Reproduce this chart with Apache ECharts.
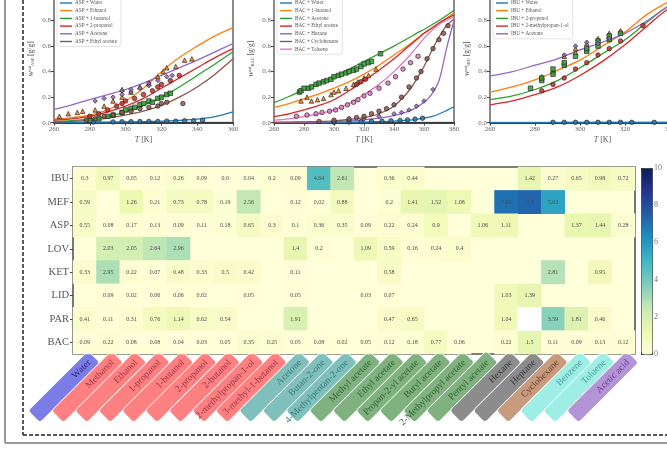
<!DOCTYPE html>
<html>
<head>
<meta charset="utf-8">
<script src="https://cdn.jsdelivr.net/npm/echarts@6/dist/echarts.min.js"></script>
<style>
  html, body { margin: 0; padding: 0; background: #fff; }
  #chart { width: 667px; height: 450px; }
</style>
</head>
<body>
<div id="chart"></div>
<script>
// ---------- solubility curves and measurements (w in g/g, T in K) ----------
const aspT = [260, 270, 280, 290, 300, 310, 320, 330, 340, 350, 360];
const aspNames = ['ASP + Water', 'ASP + Ethanol', 'ASP + 1-butanol', 'ASP + 2-propanol', 'ASP + Acetone', 'ASP + Ethyl acetate'];
const aspWater   = [0.001, 0.002, 0.003, 0.004, 0.006, 0.008, 0.012, 0.018, 0.028, 0.048, 0.085];
const aspEthanol = [0.027, 0.04, 0.06, 0.10, 0.17, 0.27, 0.40, 0.51, 0.60, 0.68, 0.745];
const aspButanol = [0.01, 0.017, 0.03, 0.05, 0.085, 0.135, 0.20, 0.28, 0.37, 0.46, 0.555];
const aspPropanol = [0.02, 0.03, 0.05, 0.085, 0.13, 0.19, 0.27, 0.35, 0.43, 0.51, 0.58];
const aspAcetone = [0.105, 0.14, 0.18, 0.22, 0.26, 0.31, 0.37, 0.43, 0.49, 0.555, 0.62];
const aspEthylAc = [0.005, 0.01, 0.02, 0.035, 0.06, 0.09, 0.135, 0.20, 0.28, 0.38, 0.50];
const aspWaterPts = [[282,0.005],[293,0.006],[298,0.008],[303,0.008],[308,0.009],[313,0.01],[318,0.01],[323,0.012],[328,0.012],[333,0.015],[338,0.016],[343,0.02]];
const aspEthanolPts = [[263,0.05],[268,0.07],[273,0.08],[276,0.09],[283,0.1],[288,0.13],[293,0.17],[298,0.2],[298,0.26],[303,0.24],[308,0.28],[313,0.31],[318,0.36],[321,0.4],[323,0.43],[328,0.44],[333,0.49],[337,0.5]];
const aspButanolPts = [[280,0.02],[285,0.03],[290,0.05],[293,0.06],[298,0.08],[300,0.1],[303,0.11],[305,0.12],[308,0.14],[310,0.15],[313,0.17],[315,0.16],[318,0.19],[320,0.2],[323,0.22],[325,0.23]];
const aspPropanolPts = [[280,0.05],[285,0.07],[290,0.1],[295,0.13],[298,0.15],[300,0.17],[305,0.19],[310,0.22],[315,0.25],[318,0.28],[320,0.3],[325,0.33],[330,0.37]];
const aspAcetonePts = [[283,0.17],[288,0.19],[293,0.2],[298,0.22],[298,0.25],[303,0.24],[303,0.26],[308,0.27],[313,0.29],[313,0.31],[318,0.33],[323,0.36],[326,0.37]];
const aspEthylAcPts = [[278,0.02],[283,0.03],[288,0.05],[293,0.06],[298,0.08],[303,0.09],[308,0.11],[313,0.12],[318,0.13],[320,0.15],[323,0.16],[332,0.15]];

const bacT = [260, 270, 280, 290, 300, 310, 320, 330, 340, 350, 355, 360, 365, 370, 375, 380];
const bacNames = ['BAC + Water', 'BAC + 1-butanol', 'BAC + Acetone', 'BAC + Ethyl acetate', 'BAC + Hexane', 'BAC + Cyclohexane', 'BAC + Toluene'];
const bacWater   = [0.000, 0.000, 0.001, 0.001, 0.002, 0.003, 0.005, 0.008, 0.012, 0.02, 0.026, 0.035, 0.048, 0.068, 0.095, 0.125];
const bacButanol = [0.12, 0.15, 0.186, 0.225, 0.27, 0.32, 0.38, 0.45, 0.53, 0.61, 0.655, 0.70, 0.74, 0.78, 0.82, 0.86];
const bacAcetone = [0.157, 0.205, 0.26, 0.31, 0.36, 0.42, 0.48, 0.54, 0.60, 0.665, 0.70, 0.73, 0.765, 0.80, 0.84, 0.88];
const bacEthylAc = [0.047, 0.07, 0.10, 0.135, 0.18, 0.25, 0.33, 0.41, 0.50, 0.60, 0.65, 0.70, 0.74, 0.78, 0.815, 0.845];
const bacHexane  = [0.000, 0.001, 0.002, 0.004, 0.008, 0.014, 0.022, 0.035, 0.055, 0.09, 0.12, 0.16, 0.22, 0.33, 0.58, 0.80];
const bacCyclohex = [0.003, 0.005, 0.007, 0.01, 0.015, 0.025, 0.04, 0.07, 0.13, 0.25, 0.34, 0.44, 0.56, 0.67, 0.76, 0.81];
const bacToluene = [0.02, 0.03, 0.05, 0.07, 0.10, 0.15, 0.22, 0.30, 0.40, 0.52, 0.59, 0.66, 0.72, 0.77, 0.80, 0.83];
const bacWaterPts = [[300,0.003],[310,0.005],[318,0.008],[325,0.01],[332,0.012],[338,0.015],[344,0.018],[349,0.022],[354,0.028],[359,0.035]];
const bacButanolPts = [[278,0.17],[282,0.2],[285,0.17],[289,0.18],[293,0.19],[298,0.22],[300,0.24],[303,0.25],[308,0.27],[313,0.3],[316,0.32],[320,0.35],[323,0.37],[328,0.42]];
const bacAcetonePts = [[277,0.24],[278,0.25],[280,0.27],[283,0.27],[285,0.28],[288,0.3],[290,0.31],[293,0.32],[295,0.33],[298,0.34],[300,0.36],[303,0.37],[305,0.38],[308,0.39],[310,0.4],[313,0.41],[315,0.42],[318,0.44],[320,0.46],[323,0.47],[325,0.48],[331,0.54]];
const bacEthylAcPts = [[315,0.3],[318,0.32],[321,0.34]];
const bacHexanePts = [[300,0.01],[310,0.02],[320,0.03],[330,0.05],[340,0.07],[345,0.08],[350,0.1],[355,0.13],[360,0.17],[366,0.26]];
const bacCyclohexPts = [[290,0.01],[300,0.02],[310,0.03],[315,0.04],[320,0.05],[325,0.07],[330,0.09],[335,0.11],[340,0.14],[345,0.2],[350,0.28],[355,0.35],[358,0.4],[362,0.5],[366,0.58],[370,0.65],[373,0.7],[376,0.76]];
const bacToluenePts = [[275,0.05],[282,0.06],[288,0.07],[292,0.08],[297,0.09],[301,0.1],[305,0.12],[309,0.14],[313,0.16],[316,0.18],[320,0.21],[324,0.23],[330,0.27],[336,0.31],[341,0.36],[346,0.42],[351,0.47],[356,0.52]];

const ibuT = [260, 270, 280, 290, 300, 310, 320, 330, 340, 350, 360];
const ibuNames = ['IBU + Water', 'IBU + Ethanol', 'IBU + 2-propanol', 'IBU + 2-methylpropan-1-ol', 'IBU + Acetone'];
const ibuWater    = [0.001, 0.001, 0.001, 0.001, 0.002, 0.002, 0.002, 0.003, 0.003, 0.004, 0.004];
const ibuEthanol  = [0.24, 0.28, 0.335, 0.41, 0.49, 0.60, 0.71, 0.85, 0.95, 0.99, 1.0];
const ibuPropanol = [0.18, 0.21, 0.26, 0.33, 0.43, 0.54, 0.65, 0.79, 0.92, 0.99, 1.0];
const ibuMethylPropanol = [0.14, 0.17, 0.22, 0.28, 0.37, 0.48, 0.61, 0.76, 0.90, 0.98, 1.0];
const ibuAcetone  = [0.366, 0.40, 0.45, 0.50, 0.57, 0.63, 0.70, 0.80, 0.92, 0.99, 1.0];
const ibuWaterPts = [[288,0.003],[293,0.003],[298,0.003],[303,0.003],[308,0.003],[313,0.003],[318,0.003],[323,0.003],[333,0.003]];
const ibuEthanolPts = [[283,0.36],[288,0.4],[293,0.52],[298,0.55],[298,0.58],[303,0.62],[308,0.66],[313,0.7],[318,0.72]];
const ibuPropanolPts = [[278,0.27],[283,0.33],[283,0.35],[288,0.38],[288,0.42],[293,0.45],[293,0.47],[298,0.52],[303,0.56],[303,0.58],[308,0.6],[308,0.64],[313,0.65],[313,0.68],[318,0.7]];
const ibuMethylPropanolPts = [[283,0.25],[288,0.3],[293,0.35],[298,0.42],[303,0.47],[308,0.53],[313,0.58],[318,0.64],[328,0.76]];
const ibuAcetonePts = [[293,0.53],[298,0.6],[303,0.63],[308,0.62],[313,0.66]];

// ---------- solubility matrix (null = no entry) ----------
const drugs = ['IBU', 'MEF', 'ASP', 'LOV', 'KET', 'LID', 'PAR', 'BAC'];
const solvents = ['Water', 'Methanol', 'Ethanol', '1-propanol', '1-butanol', '2-propanol', '2-butanol',
  '2-methylpropan-1-ol', '3-methyl-1-butanol', 'Acetone', 'Butan-2-one', '4-Methylpentan-2-one',
  'Methyl acetate', 'Ethyl acetate', 'Propan-2-yl acetate', 'Butyl acetate', '2-Methylpropyl acetate',
  'Pentyl acetate', 'Hexane', 'Heptane', 'Cyclohexane', 'Benzene', 'Toluene', 'Acetic acid'];
const solventClass = ['water', 'alc', 'alc', 'alc', 'alc', 'alc', 'alc', 'alc', 'alc', 'ket', 'ket', 'ket',
  'est', 'est', 'est', 'est', 'est', 'est', 'alk', 'alk', 'cyc', 'aro', 'aro', 'acid'];
const n = null;
const rowIBU = [0.3, 0.97, 0.05, 0.12, 0.26, 0.09, 0.0, 0.04, 0.2, 0.09, 4.64, 2.61, n, 0.36, 0.44, n, n, n, n, 1.42, 0.27, 0.65, 0.98, 0.72];
const rowMEF = [0.59, n, 1.26, 0.21, 0.73, 0.78, 0.19, 2.56, n, 0.12, 0.02, 0.88, n, 0.2, 1.41, 1.52, 1.08, n, 7.03, 7.3, 5.63, n, n, n];
const rowASP = [0.55, 0.08, 0.17, 0.13, 0.09, 0.11, 0.18, 0.65, 0.3, 0.1, 0.36, 0.35, 0.09, 0.22, 0.24, 0.9, n, 1.06, 1.11, n, n, 1.37, 1.44, 0.28];
const rowLOV = [n, 2.03, 2.05, 2.64, 2.96, n, n, n, n, 1.4, 0.2, n, 1.09, 0.59, 0.16, 0.24, 0.4, n, n, n, n, n, n, n];
const rowKET = [0.33, 2.95, 0.22, 0.07, 0.48, 0.33, 0.5, 0.42, n, 0.11, n, n, n, 0.58, n, n, n, n, n, n, 2.81, n, 0.95, n];
const rowLID = [n, 0.09, 0.02, 0.06, 0.06, 0.02, n, 0.05, n, 0.05, n, n, 0.03, 0.07, n, n, n, n, 1.03, 1.39, n, n, n, n];
const rowPAR = [0.41, 0.11, 0.31, 0.76, 1.14, 0.62, 0.54, n, n, 1.91, n, n, n, 0.47, 0.65, n, n, n, 1.04, n, 3.59, 1.81, 0.46, n];
const rowBAC = [0.09, 0.22, 0.08, 0.08, 0.04, 0.03, 0.05, 0.35, 0.25, 0.05, 0.08, 0.02, 0.05, 0.12, 0.18, 0.77, 0.06, n, 0.22, 1.5, 0.11, 0.09, 0.13, 0.12];
const matrix = [rowIBU, rowMEF, rowASP, rowLOV, rowKET, rowLID, rowPAR, rowBAC];
const unmeasured = [['Heptane', 'PAR']];
const colorTicks = [0, 10, 2];

// ---------- styling ----------
const SERIF = '"Liberation Serif", "DejaVu Serif", serif';
const TAB = ['#1f77b4', '#ff7f0e', '#2ca02c', '#d62728', '#9467bd', '#8c564b', '#e377c2'];
const SHAPES = ['circle', 'triangle', 'rect', 'circle', 'diamond', 'circle', 'circle'];
const YLGNBU = ['#ffffd9', '#edf8b1', '#c7e9b4', '#7fcdbb', '#41b6c4', '#1d91c0', '#225ea8', '#253494', '#081d58'];
const tagFill = { water: '#7c7ce6', alc: '#ff8080', ket: '#7fc0bd', est: '#7fb27f', alk: '#8c8c8c', cyc: '#c89a7e', aro: '#9eeee6', acid: '#b394d6' };
const tagInk  = { water: '#2b2b7a', alc: '#a03545', ket: '#3c7c78', est: '#356335', alk: '#383838', cyc: '#6a4330', aro: '#4aa098', acid: '#6b3f93' };

const chart = echarts.init(document.getElementById('chart'), null, { renderer: 'canvas' });

// three temperature panels
const panels = [
  { left: 54, width: 179, xMax: 360, drug: 'ASP', T: aspT, names: aspNames,
    curves: [aspWater, aspEthanol, aspButanol, aspPropanol, aspAcetone, aspEthylAc],
    pts: [aspWaterPts, aspEthanolPts, aspButanolPts, aspPropanolPts, aspAcetonePts, aspEthylAcPts],
    colors: [0, 1, 2, 3, 4, 5] },
  { left: 274, width: 180, xMax: 380, drug: 'BAC', T: bacT, names: bacNames,
    curves: [bacWater, bacButanol, bacAcetone, bacEthylAc, bacHexane, bacCyclohex, bacToluene],
    pts: [bacWaterPts, bacButanolPts, bacAcetonePts, bacEthylAcPts, bacHexanePts, bacCyclohexPts, bacToluenePts],
    colors: [0, 1, 2, 3, 4, 5, 6] },
  { left: 490, width: 225, xMax: 360, drug: 'IBU', T: ibuT, names: ibuNames,
    curves: [ibuWater, ibuEthanol, ibuPropanol, ibuMethylPropanol, ibuAcetone],
    pts: [ibuWaterPts, ibuEthanolPts, ibuPropanolPts, ibuMethylPropanolPts, ibuAcetonePts],
    colors: [0, 1, 2, 3, 4] }
];

const grids = [], xAxes = [], yAxes = [], series = [], legends = [];
const tickLabel = { fontFamily: SERIF, fontSize: 7, color: '#666' };

panels.forEach((p, k) => {
  grids.push({ left: p.left, top: -5, width: p.width, height: 127.7, show: true, outerBoundsMode: 'none',
    borderColor: '#8a8a8a', borderWidth: 2, backgroundColor: 'transparent' });
  xAxes.push({ type: 'value', gridIndex: k, min: 260, max: p.xMax, interval: 20,
    axisLine: { lineStyle: { color: '#222', width: 1.5 } },
    axisTick: { length: 3, lineStyle: { color: '#444' } },
    axisLabel: Object.assign({ margin: 3 }, tickLabel),
    splitLine: { show: false },
    name: '{i|T} [K]', nameLocation: 'middle', nameGap: 13,
    nameTextStyle: { fontFamily: SERIF, fontSize: 8, color: '#555', rich: { i: { fontStyle: 'italic', fontFamily: SERIF, fontSize: 8, color: '#555' } } } });
  yAxes.push({ type: 'value', gridIndex: k, min: 0, max: 1, interval: 0.2,
    axisLine: { show: false },
    axisTick: { show: true, length: 3, lineStyle: { color: '#444' } },
    axisLabel: Object.assign({ margin: 3, formatter: v => v.toFixed(1) }, tickLabel),
    splitLine: { show: false },
    name: '{w|w}{sup|sat}{sub|' + p.drug + '} [g/g]', nameLocation: 'middle', nameGap: 19, nameRotate: 90,
    nameTextStyle: { fontFamily: SERIF, fontSize: 7.5, color: '#555',
      rich: { w: { fontStyle: 'italic', fontFamily: SERIF, fontSize: 8, color: '#555' },
              sup: { fontFamily: SERIF, fontSize: 4.5, color: '#555', verticalAlign: 'top' },
              sub: { fontFamily: SERIF, fontSize: 4.5, color: '#555', verticalAlign: 'bottom' } } } });
  p.names.forEach((name, i) => {
    const c = TAB[p.colors[i]];
    series.push({ type: 'line', name: name, xAxisIndex: k, yAxisIndex: k,
      data: p.T.map((t, j) => [t, p.curves[i][j]]), smooth: 0.35, showSymbol: false,
      lineStyle: { color: c, width: 1.3 }, itemStyle: { color: c }, z: 3, silent: true });
    series.push({ type: 'scatter', name: name + ' (exp.)', xAxisIndex: k, yAxisIndex: k,
      data: p.pts[i], symbol: SHAPES[i], symbolSize: 4.5,
      itemStyle: { color: c, borderColor: '#222', borderWidth: 0.8, opacity: 0.85 }, z: 4, silent: true });
  });
  legends.push({ data: p.names, left: p.left + 3, top: -2, orient: 'vertical',
    icon: 'rect', itemWidth: 12, itemHeight: 1.4, itemGap: 1.7,
    backgroundColor: 'rgba(255,255,255,0.9)', borderColor: '#d0d0d0', borderWidth: 0.6, borderRadius: 2,
    padding: [2, 4, 2, 3], selectedMode: false,
    textStyle: { fontFamily: SERIF, fontSize: 5.2, color: '#555', lineHeight: 6, padding: [0, 0, 0, -2] } });
});

// heatmap of solubilities
const HM = 3;
grids.push({ left: 73, top: 167, width: 562, height: 187, show: true, outerBoundsMode: 'none',
  backgroundColor: YLGNBU[0], borderColor: '#555', borderWidth: 1.6 });
xAxes.push({ type: 'category', gridIndex: HM, data: solvents, position: 'bottom',
  axisLine: { show: false }, axisTick: { show: true, length: 2, alignWithLabel: true, lineStyle: { color: '#444' } },
  axisLabel: { show: false }, splitLine: { show: false } });
yAxes.push({ type: 'category', gridIndex: HM, data: drugs, inverse: true,
  axisLine: { show: false }, axisTick: { show: true, length: 3, alignWithLabel: true, lineStyle: { color: '#444' } },
  axisLabel: { fontFamily: SERIF, fontSize: 10.5, color: '#555', margin: 4 }, splitLine: { show: false } });
const hmData = [];
matrix.forEach((row, r) => row.forEach((v, c) => { if (v !== null) hmData.push([c, r, v]); }));
const heatIndex = series.length;
series.push({ type: 'heatmap', name: 'solubility', xAxisIndex: HM, yAxisIndex: HM, data: hmData, z: 2,
  label: { show: true, fontFamily: SERIF, fontSize: 6, color: '#4a4a4a',
    formatter: p => (p.value[2] === 0 ? '0.0' : String(p.value[2])) },
  emphasis: { disabled: true } });
series.push({ type: 'heatmap', name: 'no data', xAxisIndex: HM, yAxisIndex: HM,
  data: unmeasured.map(([s, d]) => [solvents.indexOf(s), drugs.indexOf(d), 0]), z: 2,
  itemStyle: { color: '#ffffff' }, emphasis: { disabled: true } });

// solvent tags below the heatmap (shifted copy of the category axis)
const TAGS = 4;
grids.push({ left: 82, top: 167, width: 562, height: 187, show: false, outerBoundsMode: 'none' });
const rich = {};
Object.keys(tagFill).forEach(g => {
  rich[g] = { width: 74, height: 16, lineHeight: 16, align: 'right', padding: [0, 6, 0, 4],
    backgroundColor: tagFill[g], color: tagInk[g], borderRadius: 3, borderColor: '#ffffff', borderWidth: 0.8,
    fontFamily: SERIF, fontSize: 9.5 };
});
xAxes.push({ type: 'category', gridIndex: TAGS, data: solvents, position: 'bottom', z: 0,
  axisLine: { show: false }, axisTick: { show: false }, splitLine: { show: false },
  axisLabel: { interval: 0, rotate: 45, margin: 3, rich: rich,
    formatter: (v, i) => '{' + solventClass[i] + '|' + v + '}' } });
yAxes.push({ type: 'value', gridIndex: TAGS, show: false });
series.push({ type: 'line', name: 'tags', xAxisIndex: TAGS, yAxisIndex: TAGS, data: [], silent: true });

// colour-bar axis
const CB = 5;
grids.push({ left: 641, top: 168, width: 11, height: 186, show: false, outerBoundsMode: 'none' });
xAxes.push({ type: 'value', gridIndex: CB, show: false, min: 0, max: 1 });
yAxes.push({ type: 'value', gridIndex: CB, position: 'right', min: colorTicks[0], max: colorTicks[1], interval: colorTicks[2],
  axisLine: { show: false }, axisTick: { show: true, length: 3, lineStyle: { color: '#444' } },
  axisLabel: { fontFamily: SERIF, fontSize: 8, color: '#777', margin: 2 }, splitLine: { show: false } });
series.push({ type: 'scatter', name: 'cbar', xAxisIndex: CB, yAxisIndex: CB, data: [], silent: true });

chart.setOption({
  animation: false,
  backgroundColor: '#ffffff',
  grid: grids,
  xAxis: xAxes,
  yAxis: yAxes,
  legend: legends,
  visualMap: {
    type: 'continuous', seriesIndex: heatIndex, min: colorTicks[0], max: colorTicks[1],
    left: 641, top: 168, itemWidth: 11, itemHeight: 186, calculable: false, text: null,
    padding: 0, borderColor: '#333', borderWidth: 1,
    inRange: { color: YLGNBU }
  },
  graphic: [
    { type: 'line', shape: { x1: 5, y1: 0, x2: 5, y2: 443 }, style: { stroke: '#999', lineWidth: 2 }, silent: true },
    { type: 'line', shape: { x1: 5, y1: 443, x2: 667, y2: 443 }, style: { stroke: '#999', lineWidth: 2 }, silent: true },
    { type: 'line', shape: { x1: 23, y1: 0, x2: 23, y2: 435 }, style: { stroke: '#222', lineWidth: 1.5, lineDash: [4, 2] }, silent: true },
    { type: 'line', shape: { x1: 23, y1: 435, x2: 667, y2: 435 }, style: { stroke: '#222', lineWidth: 1.5, lineDash: [4, 2] }, silent: true }
  ],
  series: series
});
</script>
</body>
</html>
